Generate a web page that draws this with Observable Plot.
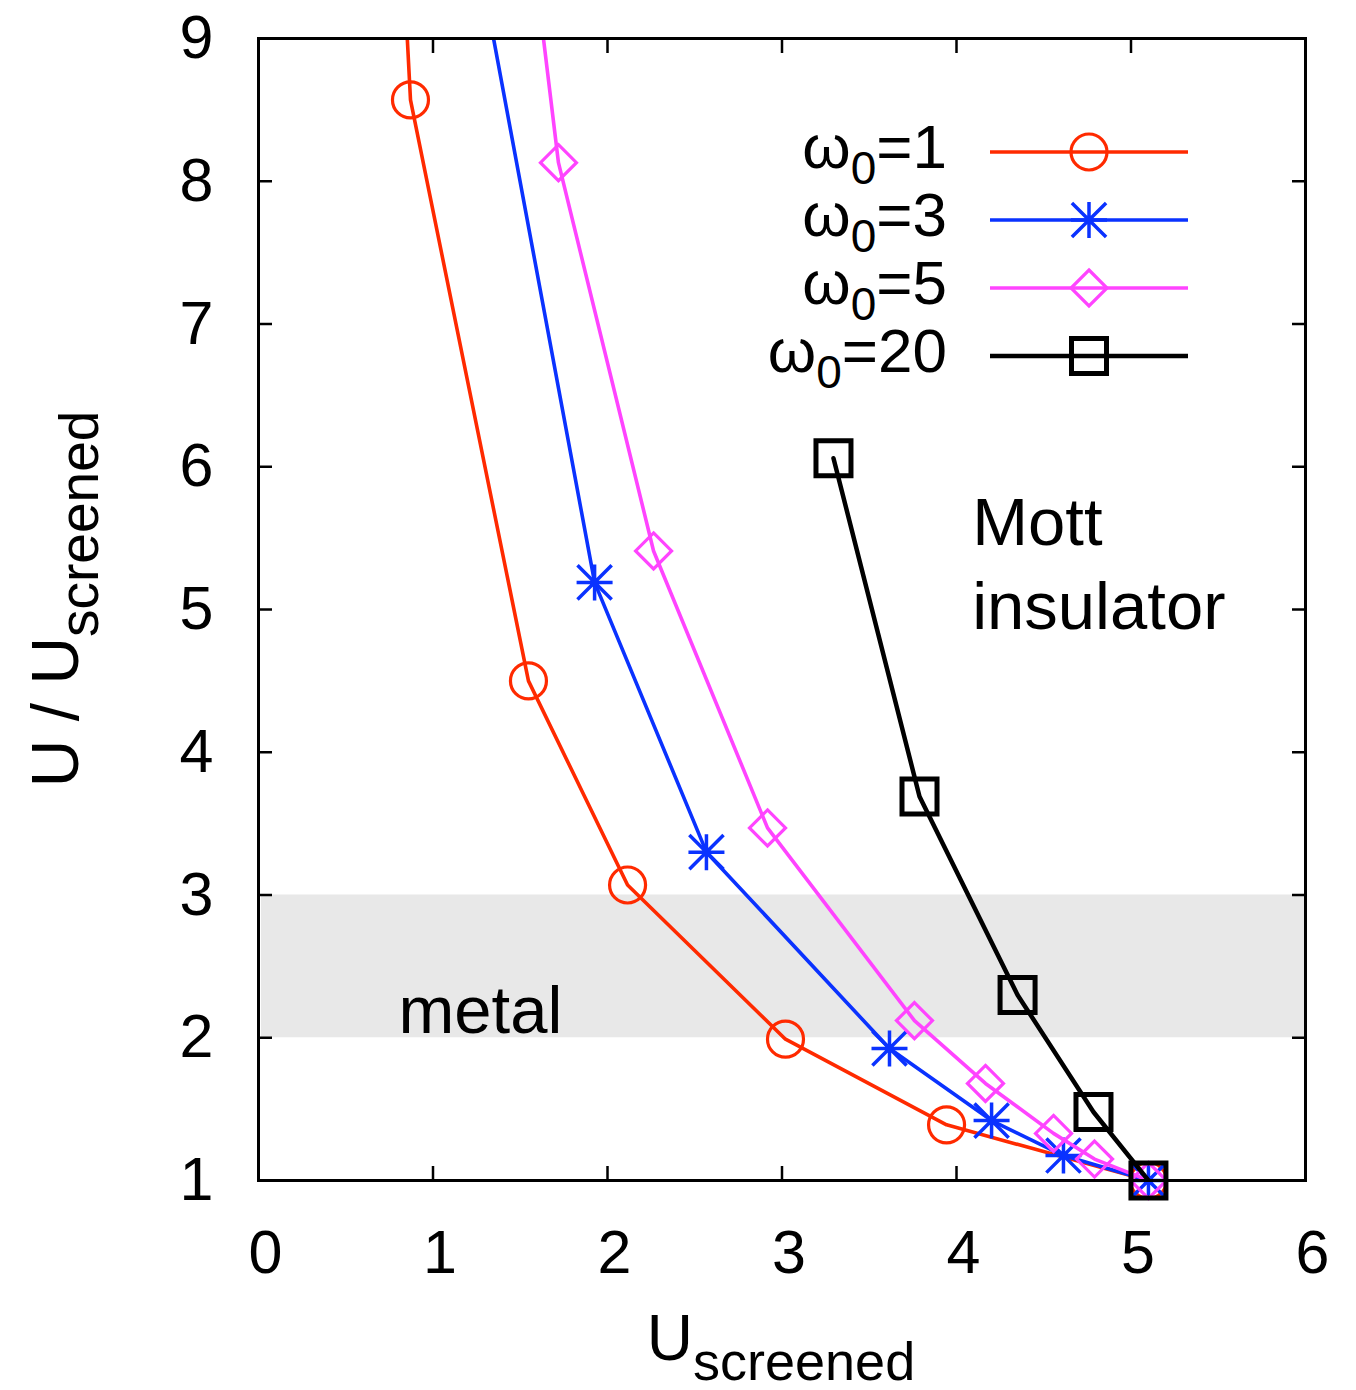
<!DOCTYPE html>
<html>
<head>
<meta charset="utf-8">
<script src="https://cdn.jsdelivr.net/npm/d3@7"></script>
<script src="https://cdn.jsdelivr.net/npm/@observablehq/plot@0.6"></script>
<style>
  body { margin: 0; background: #fff; }
  #chart svg { display: block; }
</style>
</head>
<body>
<div id="chart"></div>
<script>
// ---- data ----
const omegaValues = [1, 3, 5, 20];
const seriesNames = ["ω0=1", "ω0=3", "ω0=5", "ω0=20"];
const seriesColors = ["#ff2a00", "#0a32ff", "#ff44ff", "#000000"];
const xTicks = [0, 1, 2, 3, 4, 5, 6];
const yTicks = [1, 2, 3, 4, 5, 6, 7, 8, 9];

// first point of the first three series lies above the frame (curve leaves the top)
const w1U = [0.81, 0.871, 1.547, 2.115, 3.020, 3.943, 5.10];
const w1R = [10.0, 8.57, 4.50, 3.07, 1.99, 1.39, 1.00];
const w3U = [1.195, 1.926, 2.567, 3.616, 4.201, 4.613, 5.10];
const w3R = [10.0, 5.19, 3.30, 1.925, 1.42, 1.175, 1.00];
const w5U = [1.534, 1.719, 2.264, 2.917, 3.759, 4.166, 4.556, 4.791, 5.10];
const w5R = [10.0, 8.13, 5.41, 3.47, 2.12, 1.68, 1.33, 1.15, 1.00];
const w20U = [3.295, 3.788, 4.350, 4.785, 5.10];
const w20R = [6.06, 3.69, 2.30, 1.48, 1.00];

const metalBand = [{y1: 2, y2: 3}];

// ---- build table ----
const seriesU = [w1U, w3U, w5U, w20U];
const seriesR = [w1R, w3R, w5R, w20R];
const tables = seriesNames.map((name, i) =>
  seriesU[i].map((u, j) => ({series: name, u, r: seriesR[i][j]})));

// ---- symbols ----
const rad = (size) => Math.sqrt(size / Math.PI);
const symCircle = {draw(c, s) { const r = rad(s); c.moveTo(r, 0); c.arc(0, 0, r, 0, 2 * Math.PI); }};
const symStar = {draw(c, s) { const r = rad(s);
  c.moveTo(-r, 0); c.lineTo(r, 0); c.moveTo(0, -r); c.lineTo(0, r);
  c.moveTo(-r * 0.95, -r * 0.95); c.lineTo(r * 0.95, r * 0.95);
  c.moveTo(-r * 0.95, r * 0.95); c.lineTo(r * 0.95, -r * 0.95); }};
const symDiamond = {draw(c, s) { const r = rad(s);
  c.moveTo(0, -r); c.lineTo(r, 0); c.lineTo(0, r); c.lineTo(-r, 0); c.closePath(); }};
const symSquare = {draw(c, s) { const r = rad(s);
  c.moveTo(-r, -r); c.lineTo(r, -r); c.lineTo(r, r); c.lineTo(-r, r); c.closePath(); }};
const symbols = [symCircle, symStar, symDiamond, symSquare];
const lineWidths = [3.6, 3.6, 3.6, 4.5];
const markWidths = [3.2, 3.5, 3.2, 5];
const markR = [18, 18, 18, 17.5];

const FONT = "'Liberation Sans', Arial, Helvetica, sans-serif";

const seriesMarks = [];
tables.forEach((t, i) => {
  seriesMarks.push(Plot.line(t, {x: "u", y: "r", stroke: seriesColors[i], strokeWidth: lineWidths[i], clip: true}));
  seriesMarks.push(Plot.dot(t, {x: "u", y: "r", filter: d => d.r <= 9, symbol: symbols[i], r: markR[i], fill: "none",
    stroke: seriesColors[i], strokeWidth: markWidths[i]}));
});

const chart = Plot.plot({
  width: 1356,
  height: 1390,
  marginLeft: 258,
  marginRight: 51,
  marginTop: 38,
  marginBottom: 210,
  style: {fontFamily: FONT, fontSize: "60px", color: "#000", background: "#fff"},
  x: {domain: [0, 6]},
  y: {domain: [1, 9]},
  marks: [
    Plot.rect(metalBand, {x1: 0, x2: 6, y1: "y1", y2: "y2", fill: "#e8e8e8", insetLeft: 3}),
    ...seriesMarks,
    Plot.text(["metal"], {x: 0.802, y: 2.184, text: d => d, textAnchor: "start", lineAnchor: "middle", fontSize: 67, fill: "#000"}),
    Plot.text(["Mott\ninsulator"], {x: 4.09, y: 5.865, text: d => d, textAnchor: "start", lineAnchor: "top", lineHeight: 1.25, fontSize: 67, fill: "#000"}),
    // inward ticks on all four sides
    Plot.axisX(xTicks, {anchor: "bottom", tickSize: 14, dy: -14, tickFormat: () => "", strokeWidth: 2.5, label: null}),
    Plot.axisX(xTicks, {anchor: "top", tickSize: 14, dy: 14, tickFormat: () => "", strokeWidth: 2.5, label: null}),
    Plot.axisY(yTicks, {anchor: "left", tickSize: 14, dx: 14, tickFormat: () => "", strokeWidth: 2.5, label: null}),
    Plot.axisY(yTicks, {anchor: "right", tickSize: 14, dx: -14, tickFormat: () => "", strokeWidth: 2.5, label: null}),
    // tick labels
    Plot.axisX(xTicks, {anchor: "bottom", tickSize: 0, tickPadding: 49, dx: 7, tickFormat: d3.format("d"), label: null, fontSize: 61}),
    Plot.axisY(yTicks, {anchor: "left", tickSize: 0, tickPadding: 45, tickFormat: d3.format("d"), label: null, fontSize: 61}),
    Plot.frame({stroke: "#000", strokeWidth: 3})
  ]
});

document.getElementById("chart").appendChild(chart);

// ---- axis titles with subscripts ----
const svg = d3.select(chart);
const xt = svg.append("text").attr("x", 781).attr("y", 1360).attr("text-anchor", "middle")
  .attr("font-family", FONT).attr("font-size", 64).attr("fill", "#000");
xt.append("tspan").text("U");
xt.append("tspan").attr("font-size", 54).attr("dy", 20).text("screened");

const yt = svg.append("text").attr("transform", "translate(78,599) rotate(-90)").attr("text-anchor", "middle")
  .attr("font-family", FONT).attr("font-size", 66).attr("fill", "#000");
yt.append("tspan").text("U / U");
yt.append("tspan").attr("font-size", 55).attr("dy", 20).text("screened");

// ---- legend ----
const leg = svg.append("g").attr("font-family", FONT).attr("fill", "#000");
seriesNames.forEach((name, i) => {
  const y = 152 + i * 68;
  leg.append("line").attr("x1", 990).attr("x2", 1188).attr("y1", y).attr("y2", y)
    .attr("stroke", seriesColors[i]).attr("stroke-width", lineWidths[i]);
  leg.append("path").attr("transform", `translate(1089,${y})`)
    .attr("d", d3.symbol(symbols[i], Math.PI * markR[i] * markR[i])())
    .attr("fill", "none").attr("stroke", seriesColors[i]).attr("stroke-width", markWidths[i]);
  const t = leg.append("text").attr("x", 947).attr("y", y + 16).attr("text-anchor", "end").attr("font-size", 62);
  t.append("tspan").text("ω");
  t.append("tspan").attr("font-size", 46).attr("dy", 16).text("0");
  t.append("tspan").attr("dy", -16).text("=" + omegaValues[i]);
});
</script>
</body>
</html>
